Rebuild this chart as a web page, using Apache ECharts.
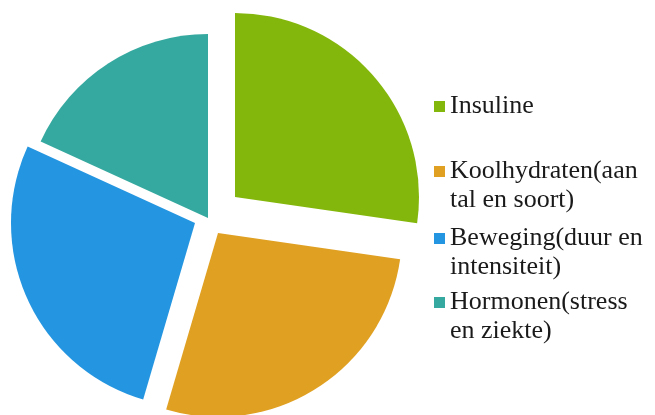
<!DOCTYPE html>
<html>
<head>
<meta charset="utf-8">
<script src="https://cdn.jsdelivr.net/npm/echarts@6/dist/echarts.min.js"></script>
<style>
html,body{margin:0;padding:0;background:#fff;}
#chart{width:655px;height:415px;}
</style>
</head>
<body>
<div id="chart"></div>
<script>
// ---- data ----
const categories = ['Insuline', 'Koolhydraten(aantal en soort)', 'Beweging(duur en intensiteit)', 'Hormonen(stress en ziekte)'];
const values = [3, 3, 3, 2];
const legendLines = [
  ['Insuline'],
  ['Koolhydraten(aan', 'tal en soort)'],
  ['Beweging(duur en', 'intensiteit)'],
  ['Hormonen(stress', 'en ziekte)']
];
const colors = ['#84b70b', '#e0a021', '#2495e0', '#35a99f'];

// ---- layout (exploded slice centres, legend positions) ----
const sliceCenters = [[235, 197], [218, 233], [195, 223], [208, 218]];
const pieRadius = 184;
const legendTops = [92, 128, 195, 259];
const lineH = 29;

const chart = echarts.init(document.getElementById('chart'), null, {renderer: 'canvas'});

const series = categories.map((c, i) => ({
  type: 'pie',
  name: 'slice' + i,
  center: sliceCenters[i],
  radius: pieRadius,
  startAngle: 90,
  clockwise: true,
  silent: true,
  animation: false,
  label: {show: false},
  labelLine: {show: false},
  emphasis: {disabled: true},
  itemStyle: {borderWidth: 0},
  data: categories.map((n, j) => ({
    name: n,
    value: values[j],
    itemStyle: j === i ? {color: colors[j], opacity: 1} : {color: 'rgba(0,0,0,0)', opacity: 0}
  }))
}));

const legends = categories.map((n, i) => ({
  orient: 'vertical',
  left: 434,
  top: legendTops[i],
  padding: 0,
  icon: 'rect',
  itemWidth: 11,
  itemHeight: 11,
  selectedMode: false,
  data: [{name: n, itemStyle: {color: colors[i], opacity: 1, borderWidth: 0}}],
  formatter: function () {
    const lines = legendLines[i];
    return lines.length > 1 ? '\n' + lines.join('\n') : lines[0];
  },
  textStyle: {
    fontFamily: '"Liberation Serif", "DejaVu Serif", serif',
    fontSize: 26,
    lineHeight: lineH,
    color: '#1a1a1a'
  }
}));

chart.setOption({
  backgroundColor: '#ffffff',
  animation: false,
  legend: legends,
  series: series
});
</script>
</body>
</html>
